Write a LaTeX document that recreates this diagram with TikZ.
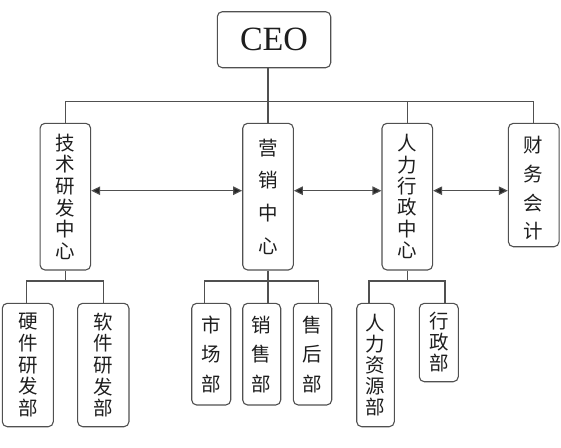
\documentclass[tikz,border=0pt]{standalone}
\usepackage{fontspec}
\setmainfont{Liberation Serif}
\newfontfamily\cjk{Noto Sans CJK SC}
\usetikzlibrary{arrows.meta}
\definecolor{linec}{RGB}{80,80,80}
\definecolor{txtc}{RGB}{30,30,30}
\begin{document}
\begin{tikzpicture}[x=1pt,y=-1pt,
  box/.style={draw=linec, line width=1.1pt, rounded corners=5pt, inner sep=0pt, align=center, text=txtc},
  conn/.style={draw=linec, line width=1.1pt},
  biarrow/.style={conn, {Triangle[length=9pt,width=8.5pt,fill=black!85]}-{Triangle[length=9pt,width=8.5pt,fill=black!85]}},
  lvtwo/.style={box, minimum width=50.6pt, minimum height=146.7pt},
  cjkf/.style={font=\cjk\fontsize{19.5}{#1}\selectfont}
]
\useasboundingbox (0,0) rectangle (561,447);

% top
\node[box, minimum width=113.4pt, minimum height=56pt, font=\fontsize{34}{40}\selectfont] (ceo) at (274,39.7) {CEO};

% level two
\node[lvtwo, cjkf=21.6] (js) at (65.35,196.65) {技\\术\\研\\发\\中\\心};
\node[lvtwo, cjkf=32.6] (yx) at (268,196.65) {营\\销\\中\\心};
\node[lvtwo, cjkf=21.4] (rl) at (407.3,196.65) {人\\力\\行\\政\\中\\心};
\node[box, minimum width=50.7pt, minimum height=123.4pt, cjkf=28.6] (cw) at (533.7,185) {\raisebox{-5pt}[\height][\depth]{\begin{tabular}{@{}c@{}}财\\务\\会\\计\end{tabular}}};

% level three
\node[box, minimum width=51pt, minimum height=123.4pt, cjkf=21.6] (yj) at (27.8,365) {硬\\件\\研\\发\\部};
\node[box, minimum width=51.3pt, minimum height=123.4pt, cjkf=21.6] (rj) at (103.3,365) {软\\件\\研\\发\\部};
\node[box, minimum width=39pt, minimum height=101.7pt, cjkf=29.5] (sc) at (211.2,354.15) {市\\场\\部};
\node[box, minimum width=38pt, minimum height=101.7pt, cjkf=29.5] (xs) at (261.7,354.15) {销\\售\\部};
\node[box, minimum width=38.4pt, minimum height=101.7pt, cjkf=29.5] (sh) at (312.5,354.15) {售\\后\\部};
\node[box, minimum width=37.6pt, minimum height=123.4pt, cjkf=21.2] (hr) at (375.5,365) {人\\力\\资\\源\\部};
\node[box, minimum width=39pt, minimum height=78.4pt, cjkf=21] (xz) at (438.8,342.5) {行\\政\\部};

% guide coordinates
\coordinate (bus) at (0,101.7);
\coordinate (arr) at (0,190.7);
\coordinate (sub) at (0,281);

% CEO to level two
\draw[conn] (ceo.south -| yx.north) -- (yx.north);
\draw[conn] (js.north |- bus) -- (cw.north |- bus);
\draw[conn] (js.north |- bus) -- (js.north);
\draw[conn] (rl.north |- bus) -- (rl.north);
\draw[conn] (cw.north |- bus) -- (cw.north);

% double arrows
\draw[biarrow] (js.east |- arr) -- (yx.west |- arr);
\draw[biarrow] (yx.east |- arr) -- (rl.west |- arr);
\draw[biarrow] (rl.east |- arr) -- (cw.west |- arr);

% technology subtree
\draw[conn] (js.south) -- (js.south |- sub);
\draw[conn] ([xshift=-1pt]yj.north) -- ([xshift=-1pt]yj.north |- sub) -- (rj.north |- sub) -- (rj.north);

% marketing subtree
\draw[conn] (yx.south) -- (yx.south |- xs.north);
\draw[conn] ([xshift=-6.9pt]sc.north) -- ([xshift=-6.9pt]sc.north |- sub) -- ([xshift=5.8pt]sh.north |- sub) -- ([xshift=5.8pt]sh.north);

% HR subtree
\draw[conn] (rl.south) -- (rl.south |- sub);
\draw[conn] ([xshift=-6.5pt]hr.north) -- ([xshift=-6.5pt]hr.north |- sub) -- ([xshift=6.2pt]xz.north |- sub) -- ([xshift=6.2pt]xz.north);
\end{tikzpicture}
\end{document}
